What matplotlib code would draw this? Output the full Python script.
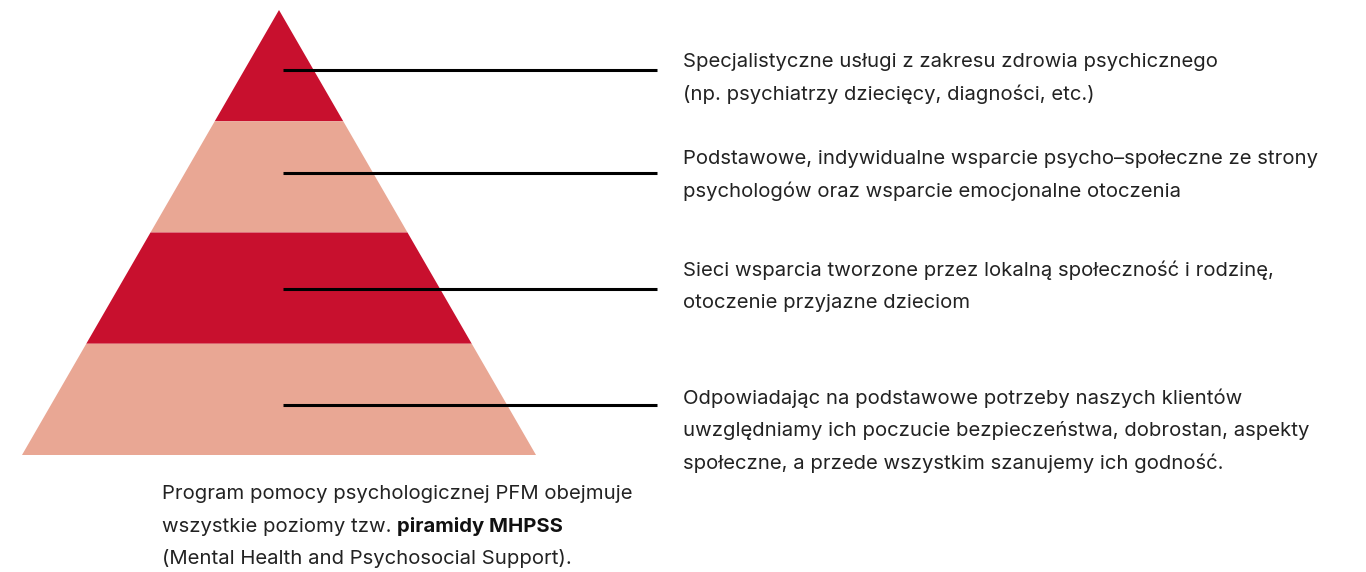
import matplotlib
matplotlib.use("Agg")
import matplotlib.pyplot as plt
from matplotlib.patches import Polygon

W, H = 1366, 572
DARK = "#c8102e"
LIGHT = "#e9a794"
INK = "#222222"

# pyramid levels, top to bottom
band_colors = [DARK, LIGHT, DARK, LIGHT]
band_labels = [
    "Specjalistyczne usługi z zakresu zdrowia psychicznego\n(np. psychiatrzy dziecięcy, diagności, etc.)",
    "Podstawowe, indywidualne wsparcie psycho–społeczne ze strony\npsychologów oraz wsparcie emocjonalne otoczenia",
    "Sieci wsparcia tworzone przez lokalną społeczność i rodzinę,\notoczenie przyjazne dzieciom",
    "Odpowiadając na podstawowe potrzeby naszych klientów\nuwzględniamy ich poczucie bezpieczeństwa, dobrostan, aspekty\nspołeczne, a przede wszystkim szanujemy ich godność.",
]
footer_lines = [
    ("Program pomocy psychologicznej PFM obejmuje", None),
    ("wszystkie poziomy tzw. ", "piramidy MHPSS"),
    ("(Mental Health and Psychosocial Support).", None),
]

plt.rcParams["font.family"] = ["Inter", "DejaVu Sans"]
FS = 14.6
STEP = 32.5

fig = plt.figure(figsize=(W / 100, H / 100), dpi=100)
ax = fig.add_axes([0, 0, 1, 1])
ax.set_xlim(0, W)
ax.set_ylim(H, 0)
ax.axis("off")

apex_x, apex_y = 279, 10
base_l, base_r, base_y = 22, 536, 455
n = len(band_colors)
band_h = (base_y - apex_y) / n
half_w = (base_r - base_l) / 2


def half_at(y):
    return half_w * (y - apex_y) / (base_y - apex_y)


for i, col in enumerate(band_colors):
    y0 = apex_y + i * band_h
    y1 = y0 + band_h
    pts = [(apex_x - half_at(y0), y0), (apex_x + half_at(y0), y0),
           (apex_x + half_at(y1), y1), (apex_x - half_at(y1), y1)]
    ax.add_patch(Polygon(pts, closed=True, facecolor=col, edgecolor="none"))

line_y = [70, 173, 289, 405]
text_first = [62, 159, 270, 398]
for ly, ty, lab in zip(line_y, text_first, band_labels):
    ax.plot([283, 657], [ly, ly], color="black", lw=2.2, solid_capstyle="butt")
    for j, row in enumerate(lab.split("\n")):
        ax.text(683, ty + j * STEP, row, fontsize=FS, color=INK,
                va="center", ha="left")

fig.canvas.draw()
r = fig.canvas.get_renderer()
for k, (txt, bold) in enumerate(footer_lines):
    y = 494 + k * STEP
    t = ax.text(162, y, txt, fontsize=FS, color=INK, va="center", ha="left")
    if bold:
        bb = t.get_window_extent(renderer=r)
        ax.text(bb.x1, H - y, bold, fontsize=FS, color="#111111", fontweight="bold",
                va="center", ha="left", transform=None)

fig.savefig("out.png", dpi=100, facecolor="white")
